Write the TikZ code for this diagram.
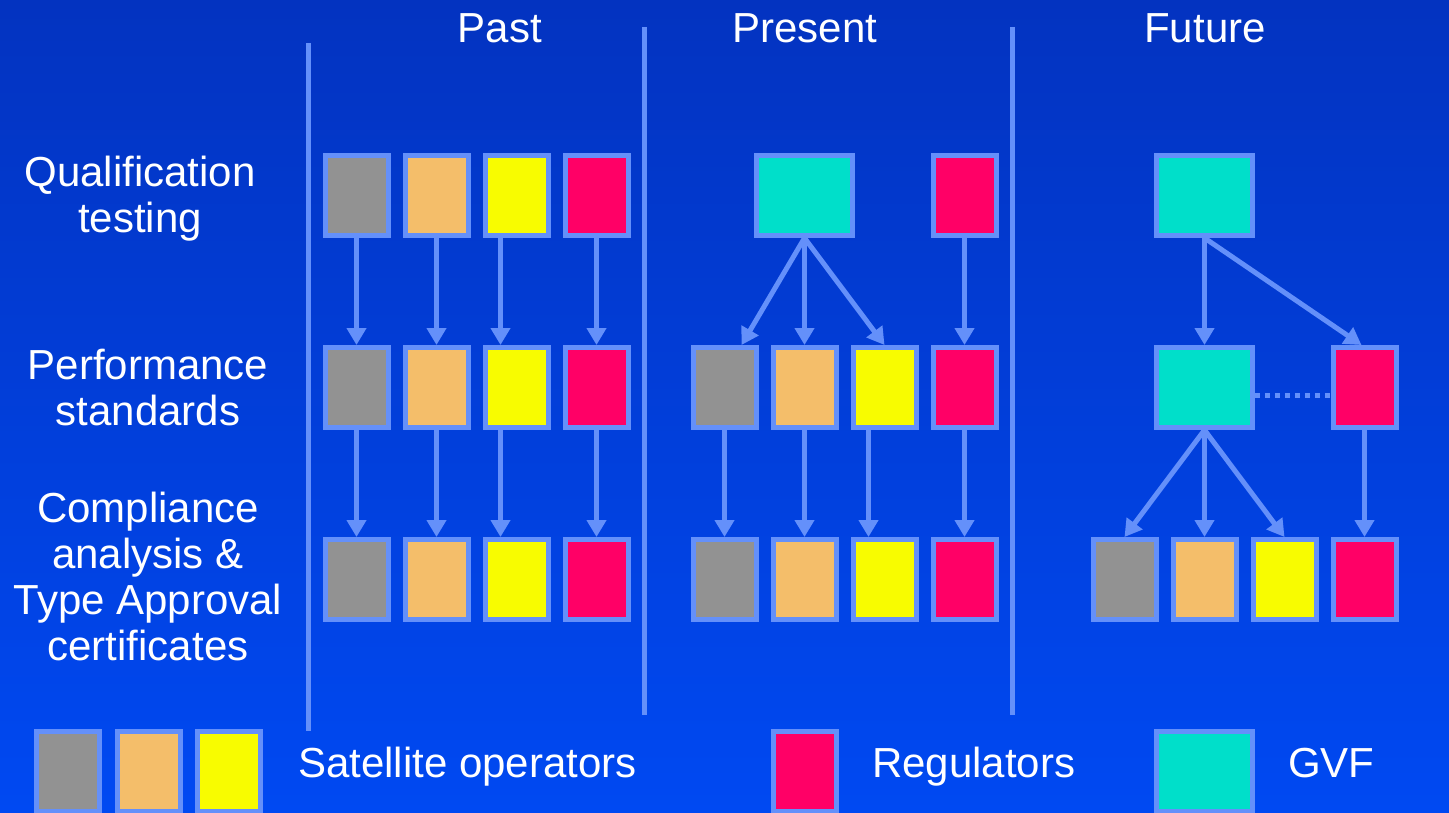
\documentclass[tikz,border=0pt]{standalone}
\usepackage{fontspec}
\setmainfont{Liberation Sans}
\usetikzlibrary{arrows.meta}
\definecolor{bgtop}{HTML}{0333C0}
\definecolor{bgbot}{HTML}{0049F2}
\definecolor{edge}{HTML}{6490FA}
\definecolor{cgray}{HTML}{929292}
\definecolor{corange}{HTML}{F4BE6A}
\definecolor{cyellow}{HTML}{F8FC00}
\definecolor{cred}{HTML}{FF0066}
\definecolor{ccyan}{HTML}{00DFCA}
\tikzset{
  box/.style={draw=edge, line width=5pt, minimum width=63pt, minimum height=80pt, inner sep=0pt, anchor=center},
  widebox/.style={box, minimum width=96pt},
  gbox/.style={box, fill=cgray},
  obox/.style={box, fill=corange},
  ybox/.style={box, fill=cyellow},
  rbox/.style={box, fill=cred},
  cbox/.style={widebox, fill=ccyan},
  conn/.style={draw=edge, line width=5pt, -{Triangle[width=19pt,length=17pt]}},
  sep/.style={draw=edge, line width=5pt},
  lbl/.style={text=white, font=\fontsize{42}{46}\selectfont, inner sep=0pt, align=center, anchor=base},
  legtxt/.style={text=white, font=\fontsize{42}{46}\selectfont, inner sep=0pt, anchor=base west}
}
\begin{document}
\begin{tikzpicture}[x=1pt,y=-1pt]
\useasboundingbox (0,0) rectangle (1449,813);
\fill[top color=bgtop, bottom color=bgbot] (0,0) rectangle (1449,813);

% separators
\draw[sep] (308,43) -- (308,731);
\draw[sep] (644,27) -- (644,715);
\draw[sep] (1012,27) -- (1012,715);

% headers
\node[lbl] (hpast) at (500,43) {Past};
\node[lbl] (hpres) at (805,43) {Present};
\node[lbl] (hfut) at (1205,43) {Future};

% row labels (base anchor = last line's baseline)
\node[lbl] (lq) at (140,233) {Qualification\\testing};
\node[lbl] (lp) at (148,425) {Performance\\standards};
\node[lbl] (lc) at (148,660) {Compliance\\analysis \&\\Type Approval\\certificates};

% Past
\node[gbox] (pa1) at (356.5,195.5) {};
\node[obox] (pb1) at (436.5,195.5) {};
\node[ybox] (pc1) at (516.5,195.5) {};
\node[rbox] (pd1) at (596.5,195.5) {};
\node[gbox] (pa2) at (356.5,387.5) {};
\node[obox] (pb2) at (436.5,387.5) {};
\node[ybox] (pc2) at (516.5,387.5) {};
\node[rbox] (pd2) at (596.5,387.5) {};
\node[gbox] (pa3) at (356.5,579.5) {};
\node[obox] (pb3) at (436.5,579.5) {};
\node[ybox] (pc3) at (516.5,579.5) {};
\node[rbox] (pd3) at (596.5,579.5) {};
\foreach \n in {a,b,d} {
  \draw[conn] (p\n1.south) -- (p\n2.north);
  \draw[conn] (p\n2.south) -- (p\n3.north);
}
\draw[conn] ([xshift=-16pt]pc1.south) -- ([xshift=-16pt]pc2.north);
\draw[conn] ([xshift=-16pt]pc2.south) -- ([xshift=-16pt]pc3.north);

% Present
\node[cbox] (qg1) at (804.5,195.5) {};
\node[rbox] (qd1) at (964.5,195.5) {};
\node[gbox] (qa2) at (724.5,387.5) {};
\node[obox] (qb2) at (804.5,387.5) {};
\node[ybox] (qc2) at (884.5,387.5) {};
\node[rbox] (qd2) at (964.5,387.5) {};
\node[gbox] (qa3) at (724.5,579.5) {};
\node[obox] (qb3) at (804.5,579.5) {};
\node[ybox] (qc3) at (884.5,579.5) {};
\node[rbox] (qd3) at (964.5,579.5) {};
\draw[conn] (qg1.south) -- ([xshift=17pt]qa2.north);
\draw[conn] (qg1.south) -- (qb2.north);
\draw[conn] (qg1.south) -- (qc2.north);
\draw[conn] (qd1.south) -- (qd2.north);
\draw[conn] (qa2.south) -- (qa3.north);
\draw[conn] (qb2.south) -- (qb3.north);
\draw[conn] ([xshift=-16pt]qc2.south) -- ([xshift=-16pt]qc3.north);
\draw[conn] (qd2.south) -- (qd3.north);

% Future
\node[cbox] (fg1) at (1204.5,195.5) {};
\node[cbox] (fg2) at (1204.5,387.5) {};
\node[rbox] (fd2) at (1364.5,387.5) {};
\node[gbox] (fa3) at (1124.5,579.5) {};
\node[obox] (fb3) at (1204.5,579.5) {};
\node[ybox] (fc3) at (1284.5,579.5) {};
\node[rbox] (fd3) at (1364.5,579.5) {};
\draw[conn] (fg1.south) -- ([xshift=-3pt]fd2.north);
\draw[conn] (fg1.south) -- (fg2.north);
\draw[sep, dash pattern=on 5pt off 5pt] ([yshift=-8pt]fg2.east) -- ([yshift=-8pt]fd2.west);
\draw[conn] (fg2.south) -- (fa3.north);
\draw[conn] (fg2.south) -- (fb3.north);
\draw[conn] (fg2.south) -- (fc3.north);
\draw[conn] (fd2.south) -- (fd3.north);

% Legend
\node[gbox] (la) at (68,771.5) {};
\node[obox] (lb) at (148.5,771.5) {};
\node[ybox] (lcy) at (228.5,771.5) {};
\node[legtxt] (lsat) at (298,777) {Satellite operators};
\node[rbox] (lr) at (804.5,771.5) {};
\node[legtxt] (lreg) at (872,777) {Regulators};
\node[cbox] (lg) at (1204.5,771.5) {};
\node[legtxt] (lgvf) at (1288,777) {GVF};
\end{tikzpicture}
\end{document}
